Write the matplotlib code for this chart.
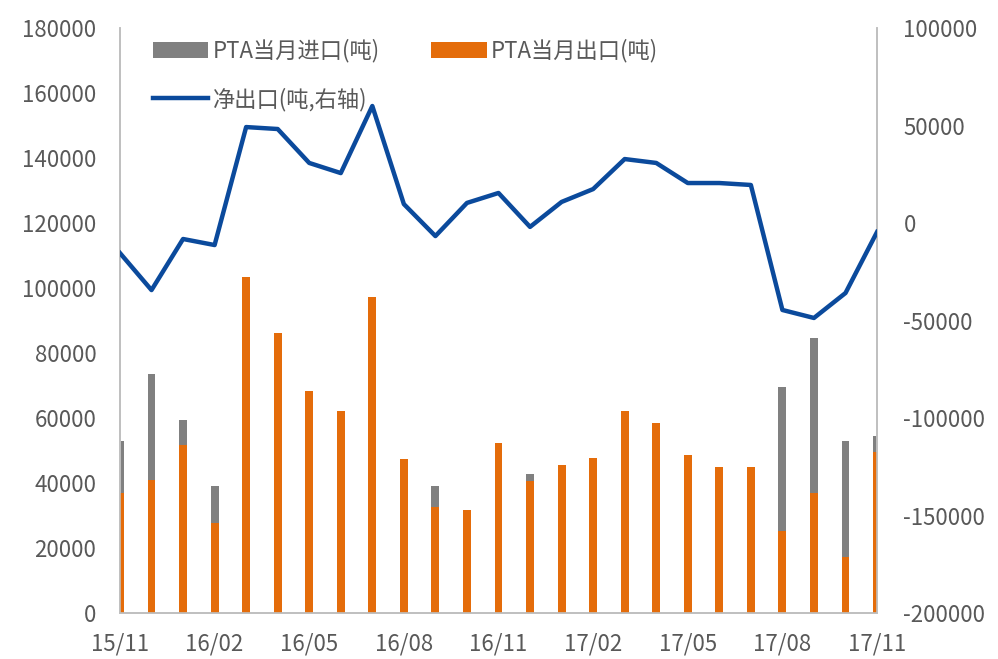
import matplotlib
matplotlib.use("Agg")
import matplotlib.pyplot as plt
import numpy as np
from matplotlib.patches import Patch
from matplotlib.lines import Line2D

plt.rcParams['font.family'] = ['Noto Sans CJK SC', 'DejaVu Sans']
plt.rcParams['axes.unicode_minus'] = False

months = ["15/11", "15/12", "16/01", "16/02", "16/03", "16/04", "16/05", "16/06", "16/07",
          "16/08", "16/09", "16/10", "16/11", "16/12", "17/01", "17/02", "17/03", "17/04",
          "17/05", "17/06", "17/07", "17/08", "17/09", "17/10", "17/11"]

imports = [52900, 73500, 59400, 39100, 54000, 38000, 37500, 36900, 37200, 37700, 39200, 21400,
           36900, 42800, 34700, 30300, 29400, 27700, 28100, 23700, 24900, 69500, 84600, 52900, 54500]
exports = [37000, 40800, 51800, 27800, 103400, 86200, 68300, 62200, 97200, 47400, 32600, 31700,
           52300, 40600, 45500, 47700, 62200, 58500, 48600, 44900, 44900, 25200, 36900, 17200, 49500]
net_exp = [-15400, -34400, -8200, -11300, 49200, 48200, 30800, 25600, 60000, 9700, -6700, 10300,
           15400, -2000, 10800, 17400, 32800, 30800, 20500, 20500, 19500, -44600, -48700, -35900, -4600]

gray = "#808080"
orange = "#E46C0A"
blue = "#0B4A9C"
txt = "#595959"
axis_col = "#BFBFBF"

x = np.arange(len(months))

fig = plt.figure(figsize=(9.98, 6.59), dpi=100)
ax = fig.add_axes([0.1202, 0.0698, 0.7586, 0.8877])

# import bars sit behind the export bars, only the part above shows
ax.bar(x, imports, width=0.25, color=gray, zorder=2)
ax.bar(x, exports, width=0.25, color=orange, zorder=3)

ax.set_xlim(0, len(months) - 1)
ax.set_ylim(0, 180000)
ax.set_yticks(np.arange(0, 180001, 20000))
ax.set_xticks(x[::3])
ax.set_xticklabels(months[::3])

ax2 = ax.twinx()
ax2.plot(x, net_exp, color=blue, lw=3.2, zorder=5)
ax2.set_ylim(-200000, 100000)
ax2.set_yticks(np.arange(-200000, 100001, 50000))

for a in (ax, ax2):
    a.tick_params(length=0, labelsize=16, colors=txt)
    a.spines['top'].set_visible(False)
    for s in ('left', 'right', 'bottom'):
        a.spines[s].set_color(axis_col)
        a.spines[s].set_linewidth(1.2)
ax.tick_params(axis='x', pad=14)
ax.tick_params(axis='y', pad=17)
ax2.tick_params(axis='y', pad=19)

handles = [Patch(facecolor=gray), Line2D([], [], color=blue, lw=3.2), Patch(facecolor=orange)]
labels = ["PTA当月进口(吨)", "净出口(吨,右轴)", "PTA当月出口(吨)"]
leg = ax2.legend(handles, labels, ncol=2, loc='upper left', bbox_to_anchor=(0.017, 1.015),
                 frameon=False, fontsize=16, handlelength=2.5, handletextpad=0.2,
                 columnspacing=2.3, labelspacing=1.1, labelcolor=txt)

fig.savefig("out.png", dpi=100)
